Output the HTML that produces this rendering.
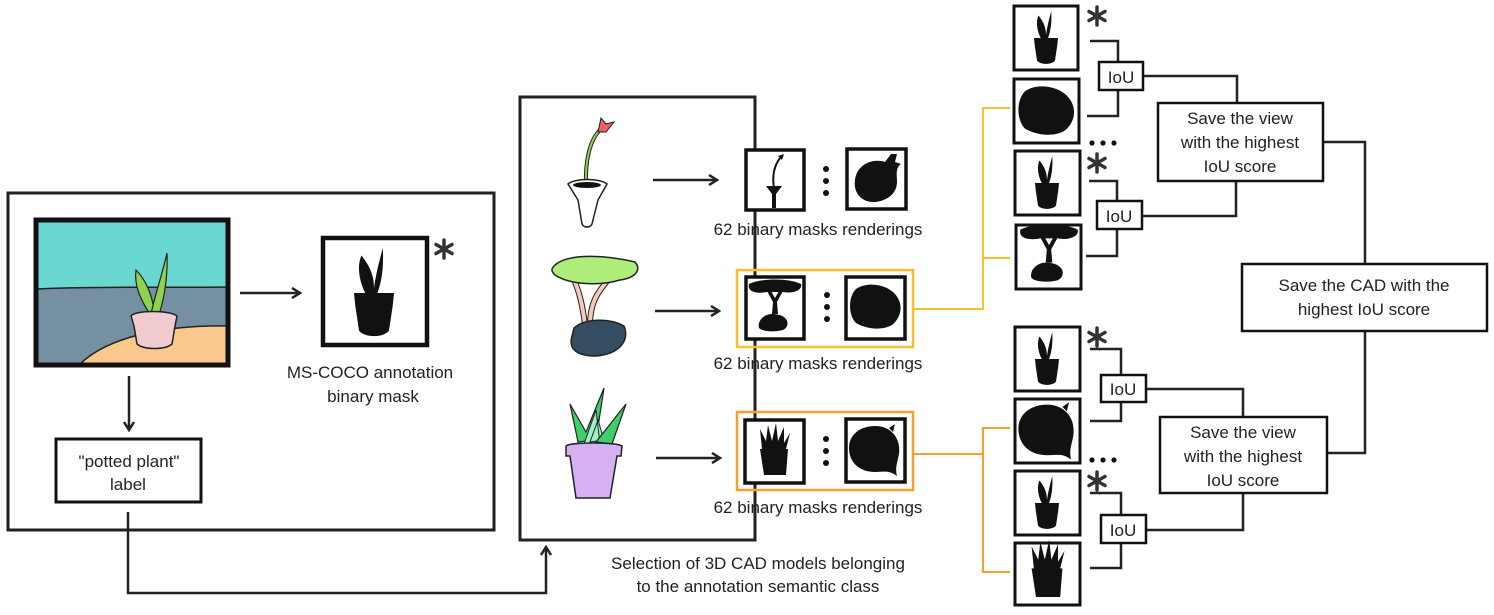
<!DOCTYPE html>
<html><head><meta charset="utf-8"><style>
html,body{margin:0;padding:0;background:#fff;}
svg{display:block;}
text{font-family:"Liberation Sans",sans-serif;font-size:17px;fill:#222;text-anchor:middle;}
</style></head><body>
<svg width="1494" height="615" viewBox="0 0 1494 615" xmlns="http://www.w3.org/2000/svg">
<defs>
<marker id="ah" markerWidth="12" markerHeight="12" refX="10" refY="6" orient="auto" markerUnits="userSpaceOnUse">
<path d="M2,1 L10,6 L2,11" fill="none" stroke="#222" stroke-width="2.5"/></marker>
<g id="mplant"><g transform="translate(0,20)"><path d="M-8,-22 C-14,-36 -12,-46 -10,-50 C-2,-40 0,-32 0,-24 C2,-38 5,-48 7,-56 C8,-40 6,-28 2,-18 L-6,-18Z" fill="#111"/><path d="M-16,-20 L16,-20 L15,-10 L12,10 C8,16 -8,16 -12,10 L-15,-10Z" fill="#111"/></g></g>
<g id="mblob"><path d="M-20,-18 C-8,-26 10,-22 18,-14 C28,-4 26,10 16,18 C6,24 -10,22 -20,16 C-28,8 -28,-10 -20,-18Z" fill="#111"/></g>
<g id="mtree"><path d="M-26,-24 C-14,-30 14,-30 26,-24 C28,-18 18,-14 8,-16 L-8,-16 C-18,-14 -28,-16 -26,-24Z" fill="#111"/><path d="M-8,-17 L-2,-6 L-3,6 L3,6 L2,-6 L8,-17 L4,-17 L0,-10 L-4,-17Z" fill="#111"/><path d="M-3,6 C14,6 16,18 8,22 C0,24 -12,24 -16,20 C-18,12 -10,6 -3,6Z" fill="#111"/></g>
<g id="maloe"><path d="M-12,-6 L-14,-26 L-8,-14 L-6,-30 L-2,-14 L2,-32 L4,-14 L10,-28 L10,-12 L16,-22 L12,-6 L14,-6 L12,20 L-10,20 L-14,-6Z" fill="#111"/></g>
<g id="mball"><path d="M0,-24 C16,-24 26,-12 24,4 C22,14 20,18 22,26 C14,20 10,22 0,22 C-16,22 -26,12 -26,-2 C-26,-16 -14,-24 0,-24Z M14,-22 L20,-26 L18,-18Z" fill="#111"/></g>
<g id="mflower"><path d="M-8,6 L8,6 L2,14 L2,28 L-2,28 L-2,14Z" fill="#111"/><path d="M0,8 C-2,-4 0,-14 6,-22" stroke="#111" stroke-width="2" fill="none"/><path d="M4,-24 L10,-26 L8,-20Z" fill="#111"/></g>
<g id="mflower2"><path d="M-22,0 C-20,-16 -4,-22 8,-18 L14,-26 L20,-26 L18,-18 L24,-16 C18,-12 20,-4 20,2 C20,16 6,22 -4,22 C-16,22 -24,12 -22,0Z" fill="#111"/></g>
<g id="ast" stroke="#333" stroke-width="3.5" stroke-linecap="round"><line x1="0" y1="-9" x2="0" y2="9"/><line x1="-8" y1="-4.5" x2="8" y2="4.5"/><line x1="-8" y1="4.5" x2="8" y2="-4.5"/></g>
</defs>

<!-- LEFT BOX -->
<rect x="8" y="193" width="486" height="337" fill="none" stroke="#222" stroke-width="3"/>
<rect x="37" y="221" width="191" height="143" fill="#6ad8d0"/>
<path d="M37,289 C100,286 170,288 228,287 L228,364 L37,364Z" fill="#7590a2"/>
<path d="M80,364 C110,335 170,325 228,326 L228,364Z" fill="#f9c88c" stroke="#222" stroke-width="1.5"/>
<path d="M37,289 C100,286 170,288 228,287" fill="none" stroke="#222" stroke-width="1.5"/>
<path d="M152,317 C140,300 134,285 136,270 C146,280 152,295 154,310Z" fill="#8ed24e" stroke="#222" stroke-width="1.2"/>
<path d="M150,318 C155,295 162,275 167,253 C168,280 164,300 158,318Z" fill="#8ed24e" stroke="#222" stroke-width="1.2"/>
<path d="M131,316 C135,310 170,310 177,316 L175,326 L172,344 C165,350 144,350 137,344 L134,326Z" fill="#f2cbd1" stroke="#222" stroke-width="1.5"/>
<rect x="36" y="220" width="192" height="145" fill="none" stroke="#111" stroke-width="5"/>
<line x1="240" y1="293" x2="300" y2="293" stroke="#222" stroke-width="2.5" marker-end="url(#ah)"/>
<rect x="323" y="238" width="104" height="107" fill="#fff" stroke="#111" stroke-width="4.5"/>
<use href="#mplant" transform="translate(374,293) scale(1.25)"/>
<use href="#ast" transform="translate(444,249)"/>
<text x="370" y="378">MS-COCO annotation</text>
<text x="373" y="402">binary mask</text>
<line x1="129" y1="376" x2="129" y2="430" stroke="#222" stroke-width="2.5" marker-end="url(#ah)"/>
<rect x="56" y="439" width="145" height="63" fill="#fff" stroke="#111" stroke-width="3"/>
<text x="129" y="467">"potted plant"</text>
<text x="128" y="490">label</text>
<path d="M128,512 L128,593 L546,593 L546,547" fill="none" stroke="#222" stroke-width="2.5" marker-end="url(#ah)"/>

<!-- MIDDLE BOX -->
<rect x="520" y="97" width="235" height="443" fill="none" stroke="#222" stroke-width="3"/>
<path d="M586,186 C585,160 590,140 600,130" stroke="#222" stroke-width="4" fill="none"/>
<path d="M586,186 C585,160 590,140 600,130" stroke="#8ed24e" stroke-width="2" fill="none"/>
<path d="M598,132 L601,118 L606,124 L614,122 L606,132Z" fill="#ef6060" stroke="#222" stroke-width="1"/>
<path d="M568,184 C575,178 600,178 607,184 L598,200 L592,224 C590,228 584,228 582,224 L578,200Z" fill="#fff" stroke="#222" stroke-width="1.5"/>
<ellipse cx="587" cy="185" rx="14" ry="3" fill="#111"/>
<line x1="653" y1="180" x2="717" y2="180" stroke="#222" stroke-width="2.5" marker-end="url(#ah)"/>
<rect x="746" y="150" width="58" height="60" fill="#fff" stroke="#111" stroke-width="3.5"/>
<use href="#mflower" transform="translate(774,180)"/>
<circle cx="826" cy="169" r="3" fill="#111"/><circle cx="826" cy="181" r="3" fill="#111"/><circle cx="826" cy="193" r="3" fill="#111"/>
<rect x="847" y="149" width="59" height="60" fill="#fff" stroke="#111" stroke-width="3.5"/>
<use href="#mflower2" transform="translate(877,180)"/>
<text x="818" y="235">62 binary masks renderings</text>
<path d="M585,325 C582,300 578,290 575,282 M590,325 C590,300 600,290 608,280" stroke="#222" stroke-width="6" fill="none"/>
<path d="M585,325 C582,300 578,290 575,282 M590,325 C590,300 600,290 608,280" stroke="#f3c9bb" stroke-width="4" fill="none"/>
<path d="M555,265 C570,252 610,256 635,262 C642,270 635,278 620,280 C600,286 570,285 555,275 C550,270 552,268 555,265Z" fill="#aeed7a" stroke="#222" stroke-width="1.5"/>
<path d="M574,328 C585,318 610,318 624,326 C630,340 620,354 596,356 C578,356 568,350 572,336Z" fill="#344d61" stroke="#222" stroke-width="1.5"/>
<line x1="655" y1="311" x2="719" y2="311" stroke="#222" stroke-width="2.5" marker-end="url(#ah)"/>
<rect x="737" y="270" width="176" height="77" fill="none" stroke="#fbbf2e" stroke-width="2.5"/>
<rect x="746" y="277" width="58" height="62" fill="#fff" stroke="#111" stroke-width="3.5"/>
<use href="#mtree" transform="translate(775,308)"/>
<circle cx="827" cy="295" r="3" fill="#111"/><circle cx="827" cy="307" r="3" fill="#111"/><circle cx="827" cy="319" r="3" fill="#111"/>
<rect x="846" y="277" width="59" height="62" fill="#fff" stroke="#111" stroke-width="3.5"/>
<use href="#mblob" transform="translate(876,307)"/>
<text x="818" y="369">62 binary masks renderings</text>
<path d="M578,442 L570,404 L586,432 L604,388 L596,440Z" fill="#3fcf6a" stroke="#222" stroke-width="1.2"/>
<path d="M590,442 L598,420 L604,440Z M584,444 L596,410 L600,444Z" fill="#9ff0c6" stroke="#222" stroke-width="1"/>
<path d="M596,442 L626,404 L612,444Z" fill="#3fcf6a" stroke="#222" stroke-width="1.2"/>
<path d="M566,446 C570,442 616,442 622,446 L621,456 L617,456 L610,498 L576,498 L570,456 L566,456Z" fill="#d5b0f3" stroke="#222" stroke-width="1.5"/>
<line x1="656" y1="458" x2="720" y2="458" stroke="#222" stroke-width="2.5" marker-end="url(#ah)"/>
<rect x="737" y="412" width="176" height="78" fill="none" stroke="#f7a030" stroke-width="2.5"/>
<rect x="745" y="420" width="59" height="63" fill="#fff" stroke="#111" stroke-width="3.5"/>
<use href="#maloe" transform="translate(774,455)"/>
<circle cx="826" cy="439" r="3" fill="#111"/><circle cx="826" cy="451" r="3" fill="#111"/><circle cx="826" cy="463" r="3" fill="#111"/>
<rect x="846" y="419" width="59" height="63" fill="#fff" stroke="#111" stroke-width="3.5"/>
<use href="#mball" transform="translate(875,450)"/>
<text x="818" y="513">62 binary masks renderings</text>
<text x="758" y="569">Selection of 3D CAD models belonging</text>
<text x="758" y="592">to the annotation semantic class</text>

<path d="M913,309 L983,309 L983,108 L1010,108 M983,258 L1010,258" fill="none" stroke="#fbbf2e" stroke-width="2"/>
<path d="M913,454 L983,454 L983,428 L1010,428 M983,454 L983,572 L1010,572" fill="none" stroke="#f7a030" stroke-width="2"/>

<g fill="#fff" stroke="#111" stroke-width="3">
<rect x="1014" y="6" width="64" height="64"/>
<rect x="1014" y="79" width="65" height="64"/>
<rect x="1015" y="151" width="65" height="64"/>
<rect x="1016" y="225" width="65" height="64"/>
<rect x="1015" y="327" width="65" height="64"/>
<rect x="1015" y="399" width="65" height="64"/>
<rect x="1015" y="471" width="65" height="64"/>
<rect x="1015" y="543" width="65" height="62"/>
</g>
<use href="#mplant" transform="translate(1046,38) scale(0.75)"/>
<use href="#mblob" transform="translate(1047,111) scale(1.1)"/>
<use href="#mplant" transform="translate(1047,183) scale(0.75)"/>
<use href="#mtree" transform="translate(1049,256) scale(1.1)"/>
<use href="#mplant" transform="translate(1047,359) scale(0.75)"/>
<use href="#mball" transform="translate(1047,431) scale(1.1)"/>
<use href="#mplant" transform="translate(1047,503) scale(0.75)"/>
<use href="#maloe" transform="translate(1047,575) scale(1.1)"/>
<use href="#ast" transform="translate(1097,16)"/>
<use href="#ast" transform="translate(1097,163)"/>
<use href="#ast" transform="translate(1097,337)"/>
<use href="#ast" transform="translate(1097,481)"/>
<g fill="#111"><circle cx="1092" cy="143" r="2.6"/><circle cx="1103" cy="143" r="2.6"/><circle cx="1114" cy="143" r="2.6"/>
<circle cx="1092" cy="460" r="2.6"/><circle cx="1103" cy="460" r="2.6"/><circle cx="1114" cy="460" r="2.6"/></g>

<g fill="none" stroke="#222" stroke-width="2.5">
<path d="M1090,41 L1118,41 L1118,62 M1087,116 L1118,116 L1118,90"/>
<path d="M1089,181 L1117,181 L1117,201 M1086,256 L1117,256 L1117,229"/>
<path d="M1143,76 L1237,76 L1237,103 M1142,216 L1236,216 L1236,181"/>
<path d="M1323,142 L1365,142 L1365,264"/>
<path d="M1090,349 L1121,349 L1121,375 M1090,421 L1121,421 L1121,402"/>
<path d="M1090,493 L1121,493 L1121,515 M1090,568 L1121,568 L1121,543"/>
<path d="M1146,389 L1243,389 L1243,417 M1146,530 L1243,530 L1243,493"/>
<path d="M1365,331 L1365,453 L1327,453"/>
</g>
<g fill="#fff" stroke="#111" stroke-width="2.5">
<rect x="1099" y="62" width="44" height="28"/>
<rect x="1097" y="201" width="45" height="28"/>
<rect x="1101" y="375" width="45" height="27"/>
<rect x="1101" y="515" width="45" height="28"/>
<rect x="1158" y="103" width="165" height="78"/>
<rect x="1160" y="417" width="167" height="76"/>
<rect x="1242" y="264" width="245" height="67"/>
</g>
<text x="1121" y="83">IoU</text><text x="1119" y="222">IoU</text>
<text x="1123" y="395">IoU</text><text x="1123" y="536">IoU</text>
<text x="1240" y="124">Save the view</text><text x="1240" y="148">with the highest</text><text x="1240" y="172">IoU score</text>
<text x="1243" y="438">Save the view</text><text x="1243" y="462">with the highest</text><text x="1243" y="486">IoU score</text>
<text x="1364" y="291">Save the CAD with the</text><text x="1364" y="315">highest IoU score</text>
</svg>
</body></html>
